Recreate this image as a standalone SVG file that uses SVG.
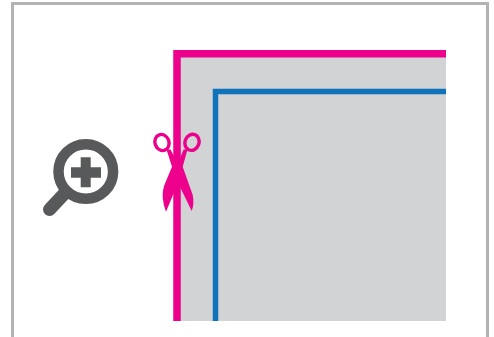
<svg xmlns="http://www.w3.org/2000/svg" width="494" height="337" viewBox="0 0 494 337">
<style>
.frame{fill:none;stroke:#b2b3b3;stroke-width:3}
.pink{fill:none;stroke:#ec008c;stroke-width:7.5}
.blue{fill:none;stroke:#0f72ba;stroke-width:5.5}
.icon{fill:none;stroke:#58595b}
.ring{fill:none;stroke:#ec008c;stroke-width:3.400}
</style>
<rect width="494" height="337" fill="#fff"/>
<g id="frame"><path class="frame" d="M12.500 337V3.500H487.500V337"/></g>
<g id="sheet"><rect x="177" y="54" width="269" height="267" fill="#d1d3d4"/></g>
<g id="connectors">
<path class="pink" d="M177 321V53.700H446"/>
<path class="blue" d="M215.500 321V91.500H446"/>
</g>
<g id="magnifier">
<circle class="icon" cx="85.800" cy="171.500" r="27.300" stroke-width="10.500"/>
<path class="icon" d="M64 194L49.500 209.500" stroke-width="13" stroke-linecap="round"/>
<path d="M80.700 157.300h10v10h10.300v10.400h-10.300v9.600h-10v-9.600h-9.700v-10.400h9.700z" fill="#58595b"/>
</g>
<g id="scissors">
<ellipse class="ring" cx="162" cy="142.500" rx="7" ry="8.200" transform="rotate(-20 162 142.500)"/>
<ellipse class="ring" cx="192" cy="142.300" rx="7" ry="8.200" transform="rotate(20 192 142.300)"/>
<path d="M166.500 149.500L172 166.700L164 186Q160.500 197 166 211.700L174.300 191.700L177.300 181.700L180.700 188.300L191.700 211Q194.500 204 192.700 195L182.700 166.700L187.500 149.500L183.700 149.500L177.700 163.300L170.500 149.500Z" fill="#ec008c"/>
</g>
</svg>
